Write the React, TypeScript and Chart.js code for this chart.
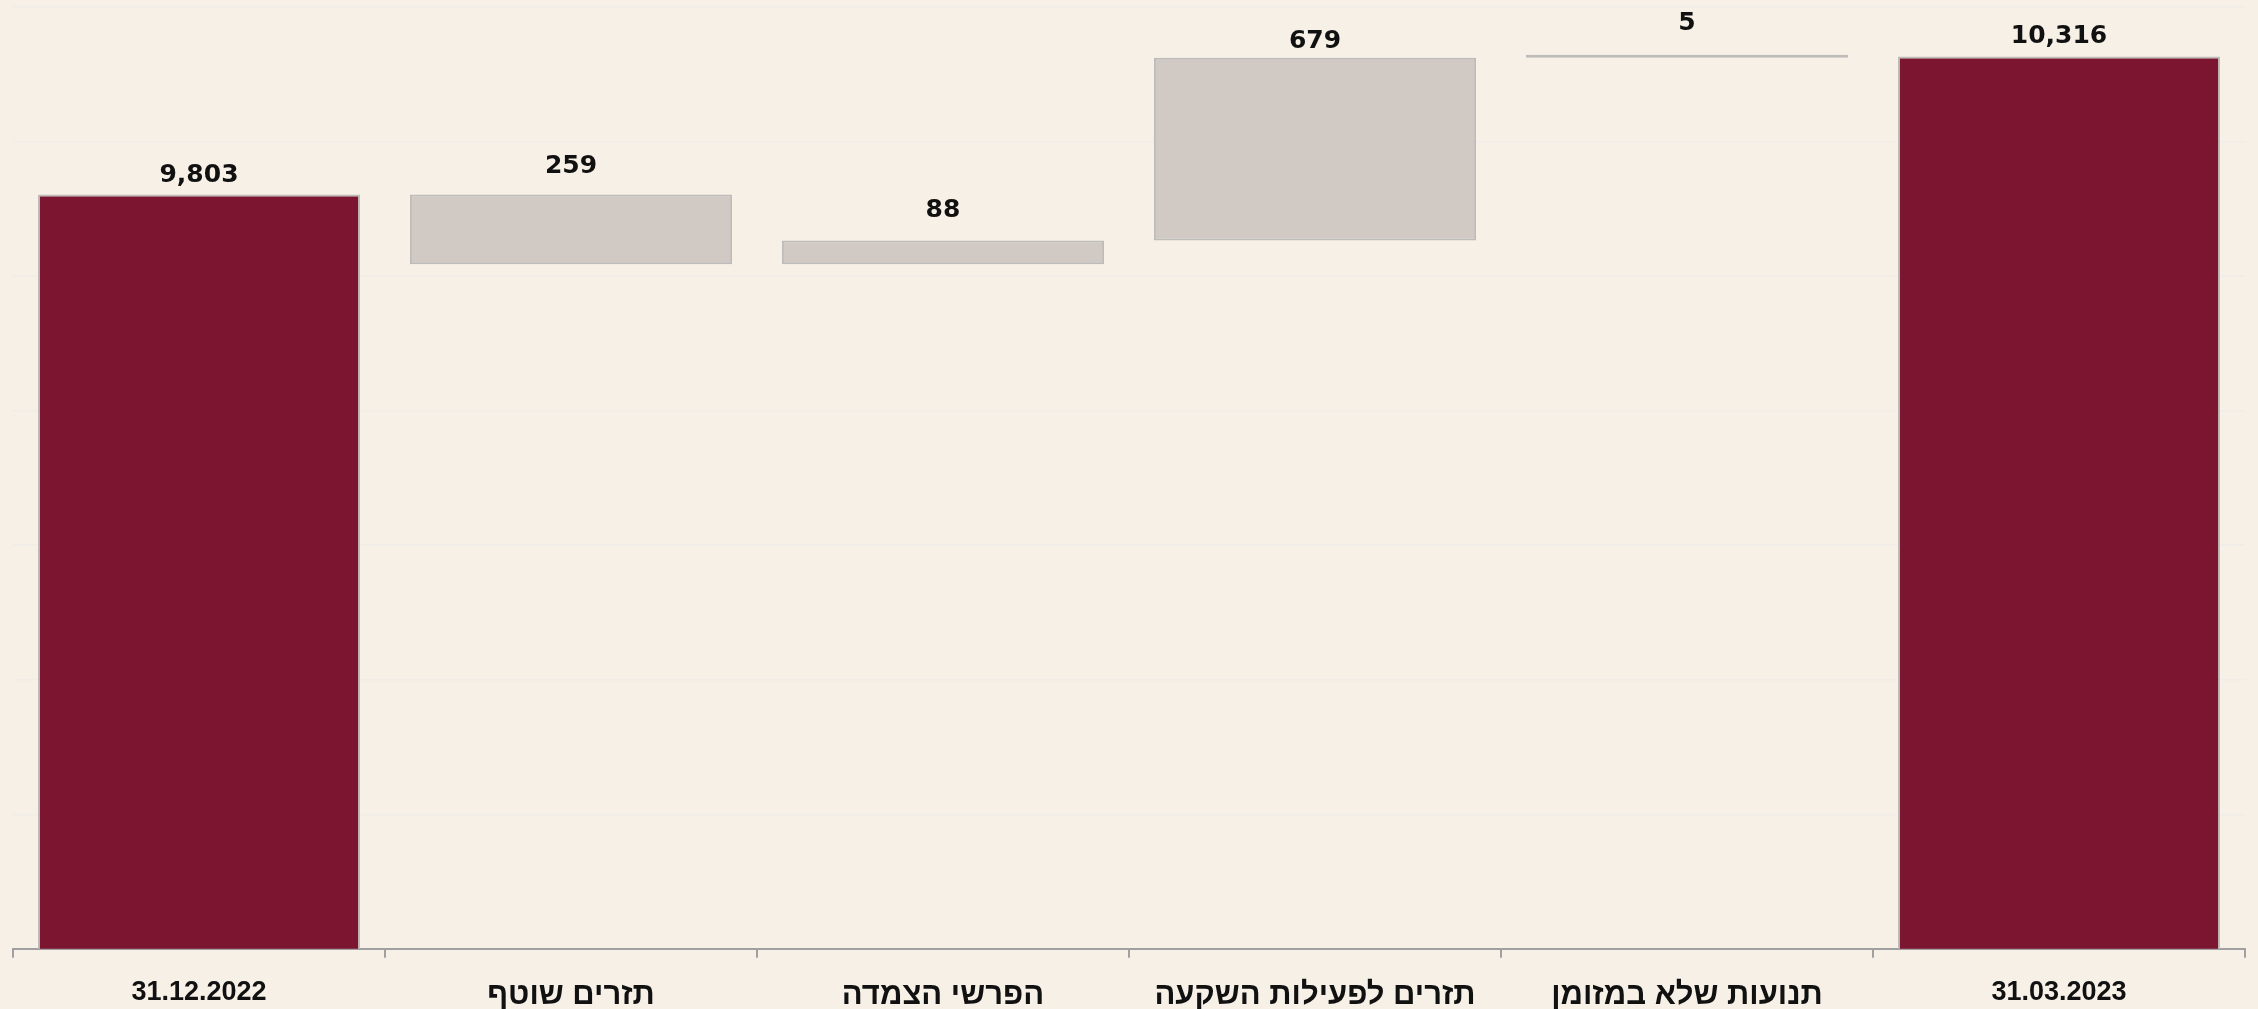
import React, { useEffect, useRef } from "react";
import { Chart, registerables } from "chart.js";

Chart.register(...registerables);

const categories = [
  "31.12.2022",
  "תזרים שוטף",
  "הפרשי הצמדה",
  "תזרים לפעילות השקעה",
  "תנועות שלא במזומן",
  "31.03.2023",
];
const openingBalance = 9803;
const changes = [-259, 88, 679, 5];
const closingBalance = 10316;
const yMin = 7000;
const yMax = 10500;
const yStep = 500;

const BG = "#F6F0E6";
const MAROON = "#7B1530";
const GRAY_FILL = "#D1C9C4";
const GRAY_BORDER = "#BEBCBA";

function buildRanges(): [number, number][] {
  const out: [number, number][] = [[0, openingBalance]];
  let run = openingBalance;
  for (const c of changes) {
    const next = run + c;
    out.push([Math.min(run, next), Math.max(run, next)]);
    run = next;
  }
  out.push([0, closingBalance]);
  return out;
}

function buildLabels(): string[] {
  const vals = [openingBalance, ...changes.map((c) => Math.abs(c)), closingBalance];
  return vals.map((v) => v.toLocaleString("en-US"));
}

const labelGaps = [13, 22, 24, 10, 25, 14];

const valueLabelPlugin = {
  id: "valueLabels",
  afterDatasetsDraw(chart: any) {
    const ctx = chart.ctx;
    const meta = chart.getDatasetMeta(0);
    const texts = buildLabels();
    ctx.save();
    ctx.font = "bold 25px 'DejaVu Sans', sans-serif";
    ctx.fillStyle = "#111111";
    ctx.textAlign = "center";
    ctx.textBaseline = "alphabetic";
    meta.data.forEach((el: any, i: number) => {
      const top = Math.min(el.y, el.base);
      ctx.fillText(texts[i], el.x, top - labelGaps[i]);
    });
    ctx.restore();
  },
};

export default function App() {
  const ref = useRef<HTMLCanvasElement | null>(null);

  useEffect(() => {
    document.body.style.margin = "0";
    document.body.style.background = BG;
    if (!ref.current) return;
    const n = categories.length;
    const colors = categories.map((_, i) => (i === 0 || i === n - 1 ? MAROON : GRAY_FILL));
    const chart = new Chart(ref.current, {
      type: "bar",
      data: {
        labels: categories,
        datasets: [
          {
            data: buildRanges() as any,
            backgroundColor: colors,
            borderColor: GRAY_BORDER,
            borderWidth: 2,
            borderSkipped: false,
            categoryPercentage: 1,
            barPercentage: 0.866,
            minBarLength: 3,
          },
        ],
      },
      options: {
        animation: false,
        responsive: false,
        maintainAspectRatio: false,
        layout: { padding: { top: 7, left: 13, right: 13, bottom: -24 } },
        plugins: {
          legend: { display: false },
          tooltip: { enabled: false },
        },
        scales: {
          x: {
            grid: {
              display: true,
              drawOnChartArea: false,
              drawTicks: true,
              tickLength: 9,
              color: "#A0A0A0",
              lineWidth: 2,
              offset: true,
            },
            border: { display: true, color: "#A0A0A0", width: 2 },
            ticks: {
              color: "#111111",
              padding: 19,
              maxRotation: 0,
              autoSkip: false,
              font: (ctx: any) => ({
                family: "'Liberation Sans', Arial, sans-serif",
                size: ctx.index === 0 || ctx.index === categories.length - 1 ? 27 : 31,
                weight: "bold",
              }),
            },
          },
          y: {
            min: yMin,
            max: yMax,
            ticks: { display: false, stepSize: yStep },
            grid: { color: "#F0EDE9", lineWidth: 1.5, drawTicks: false },
            border: { display: false },
          },
        },
      },
      plugins: [valueLabelPlugin],
    });
    return () => chart.destroy();
  }, []);

  return (
    <div style={{ width: 2258, height: 1009, background: BG }}>
      <canvas ref={ref} width={2258} height={1009} style={{ display: "block" }} />
    </div>
  );
}
